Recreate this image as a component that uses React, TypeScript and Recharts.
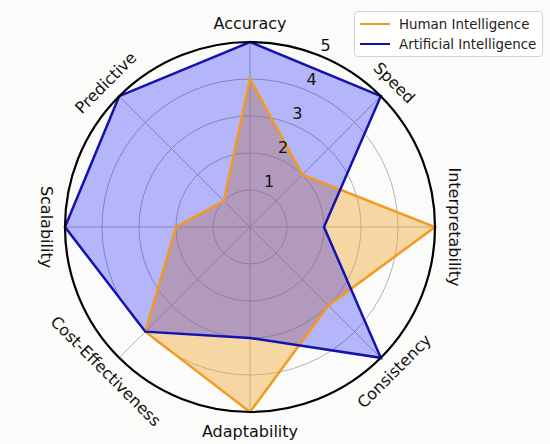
import React from 'react';
import { RadarChart, Radar, PolarGrid, PolarAngleAxis, PolarRadiusAxis, Legend } from 'recharts';

const categories = ['Accuracy', 'Speed', 'Interpretability', 'Consistency', 'Adaptability', 'Cost-Effectiveness', 'Scalability', 'Predictive'];
const humanScores = [4, 2, 5, 3, 5, 4, 2, 1];
const aiScores = [5, 5, 2, 5, 3, 4, 5, 5];
const radiusTicks = [1, 2, 3, 4, 5];
const seriesNames = ['Human Intelligence', 'Artificial Intelligence'];
const seriesColors = ['#f29a21', '#1212b0'];

const data = categories.map((name, i) => ({ name, human: humanScores[i], ai: aiScores[i] }));

const FONT = '"DejaVu Sans", Verdana, sans-serif';

const AngleTick = (props: any) => {
  const { x, y, payload, index } = props;
  const angle = typeof payload?.coordinate === 'number' ? payload.coordinate : 90 - index * 45;
  let rot = 90 - angle;
  while (rot > 90) rot -= 180;
  while (rot <= -90) rot += 180;
  return (
    <text x={x} y={y} transform={`rotate(${rot} ${x} ${y})`} textAnchor="middle" dominantBaseline="central"
      fontSize={16} fill="#111" fontFamily={FONT}>
      {payload.value}
    </text>
  );
};

const RadiusTick = (props: any) => {
  const { x, y, payload } = props;
  // push the number a little outside its ring, like matplotlib does
  const a = (66 * Math.PI) / 180;
  const tx = x + 12 * Math.cos(a);
  const ty = y - 12 * Math.sin(a);
  return (
    <text x={tx} y={ty} textAnchor="middle" dominantBaseline="central" fontSize={16} fill="#111" fontFamily={FONT}>
      {payload.value}
    </text>
  );
};

const LegendBox = () => (
  <div style={{ width: 187, height: 42, border: '1px solid #d2d2d2', borderRadius: 4, background: 'rgba(255,255,255,0.85)', fontFamily: FONT, fontSize: 13.4, color: '#222', boxSizing: 'content-box', paddingTop: 2 }}>
    {seriesNames.map((n, i) => (
      <div key={n} style={{ height: 20, display: 'flex', alignItems: 'center' }}>
        <span style={{ display: 'inline-block', width: 30, height: 2.5, background: seriesColors[i], marginLeft: 5, marginRight: 9 }} />
        <span>{n}</span>
      </div>
    ))}
  </div>
);

export default function App() {
  return (
    <div style={{ position: 'absolute', left: 0, top: 0, width: 550, height: 444, background: '#fbfbf9' }}>
      <RadarChart width={550} height={444} data={data} cx={250} cy={227} outerRadius={185} margin={{ top: 0, right: 0, bottom: 0, left: 0 }}>
        <Radar dataKey="human" fill="#f0a020" fillOpacity={0.4} stroke="none" isAnimationActive={false} legendType="none" />
        <Radar dataKey="ai" fill="#0000ff" fillOpacity={0.28} stroke="none" isAnimationActive={false} legendType="none" />
        <PolarGrid gridType="circle" stroke="#b5b5b5" strokeWidth={1} />
        <Radar dataKey="human" name={seriesNames[0]} stroke={seriesColors[0]} strokeWidth={2.5} fill="none" isAnimationActive={false} />
        <Radar dataKey="ai" name={seriesNames[1]} stroke={seriesColors[1]} strokeWidth={2.5} fill="none" isAnimationActive={false} />
        <PolarAngleAxis dataKey="name" axisLineType="circle" axisLine={{ stroke: '#000', strokeWidth: 2.2 }} tickLine={false} tickSize={19} tick={<AngleTick />} />
        <PolarRadiusAxis angle={67.5} domain={[0, 5]} ticks={radiusTicks} axisLine={false} tickLine={false} tick={<RadiusTick />} />
        <Legend content={<LegendBox />} wrapperStyle={{ position: 'absolute', left: 354, top: 11, width: 189 }} />
      </RadarChart>
    </div>
  );
}
